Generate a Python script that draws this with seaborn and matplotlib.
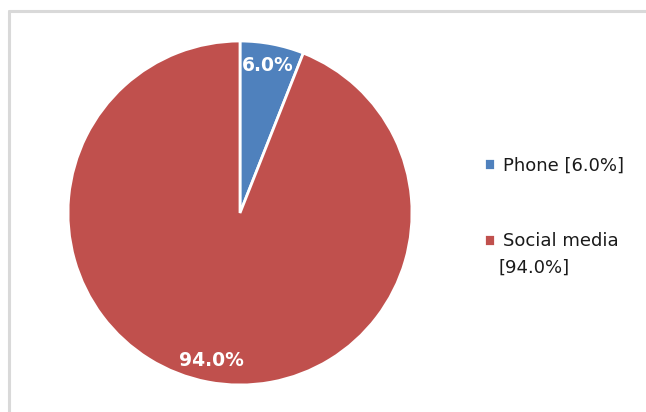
import matplotlib
matplotlib.use("Agg")
import matplotlib.pyplot as plt
from matplotlib.lines import Line2D
import seaborn as sns

categories = ["Phone", "Social media"]
values = [6.0, 94.0]
legend_labels = ["Phone [6.0%]", "Social media"]
legend_extra = "[94.0%]"
colors = ["#4F81BD", "#C0504D"]

sns.set_theme(style="white")
plt.rcParams['font.family'] = ['DejaVu Sans']

fig = plt.figure(figsize=(6.46, 4.12), dpi=100)
fig.patch.set_facecolor("white")

# light gray outer border (only top/left visible)
x0, y0 = 9/646, 1 - 11/412
fig.add_artist(Line2D([x0, 1.05], [y0, y0], transform=fig.transFigure, color="#D9D9D9", lw=2.2))
fig.add_artist(Line2D([x0, x0], [-0.05, y0], transform=fig.transFigure, color="#D9D9D9", lw=2.2))

ax = fig.add_axes([(240-172)/646, (412-385)/412, 344/646, 344/412])
wedges, texts, autotexts = ax.pie(values, colors=colors, startangle=90, counterclock=False,
                                  autopct="%.1f%%", pctdistance=0.875,
                                  wedgeprops=dict(edgecolor="white", linewidth=2),
                                  textprops=dict(color="white", fontsize=13.5, fontweight="bold"))
ax.set_xlim(-1, 1)
ax.set_ylim(-1, 1)
ax.set_aspect("equal")

leg = fig.legend(wedges, legend_labels, loc="upper left",
                 bbox_to_anchor=(468/646, 1 - 140/412), frameon=False,
                 fontsize=13, handlelength=0.62, handleheight=0.62,
                 handletextpad=0.4, labelspacing=3.2)
for t in leg.get_texts():
    t.set_color("#1a1a1a")
fig.text(499/646, 1 - 268/412, legend_extra, fontsize=13, color="#1a1a1a", va="center", ha="left")

fig.savefig("out.png", dpi=100, facecolor="white", edgecolor="white")
